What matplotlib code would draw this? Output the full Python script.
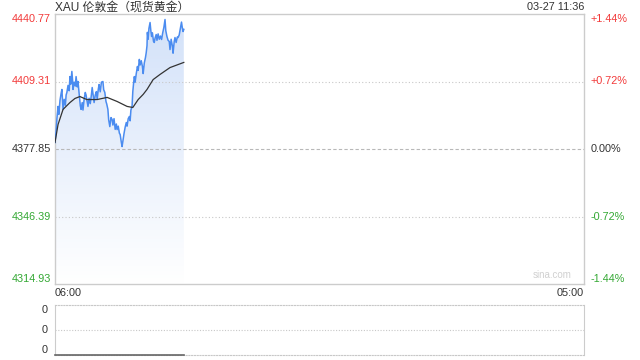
import matplotlib
matplotlib.use("Agg")
import matplotlib.pyplot as plt
import numpy as np
from matplotlib.colors import LinearSegmentedColormap
from matplotlib.patches import PathPatch
from matplotlib.path import Path

TITLE = "XAU 伦敦金（现货黄金）"
STAMP = "03-27 11:36"
PREV_CLOSE = 4377.85
Y_SPAN = 62.92
SESSION_MINUTES = 1380  # 06:00 -> 05:00 next day
X_LABELS = ["06:00", "05:00"]

# minutes since 06:00 and last price
minutes = [
    0, 3, 5, 8, 10, 13, 16, 18, 20, 21, 24, 27, 29, 31, 34, 37, 39, 41, 44, 46,
    47, 50, 53, 55, 58, 60, 63, 66, 68, 71, 73, 76, 79, 81, 84, 86, 89, 92, 95, 97,
    100, 102, 105, 108, 110, 113, 115, 118, 121, 125, 127, 130, 133, 135, 138, 140,
    143, 146, 149, 151, 154, 157, 160, 162, 165, 168, 170, 173, 175, 177, 180, 183,
    186, 188, 191, 194, 196, 198, 201, 203, 205, 207, 209, 212, 215, 217, 220, 222,
    225, 228, 230, 233, 236, 238, 240, 241, 243, 245, 248, 250, 252, 254, 257, 259,
    261, 264, 266, 269, 272, 275, 278, 281, 284, 287, 289, 292, 295, 298, 300, 303,
    306, 308, 311, 313, 316, 319, 321, 324, 327, 330, 332, 334, 336,
]
prices = [
    4380.9, 4386.5, 4392.0, 4397.7, 4394.0, 4400.5, 4403.8, 4405.6, 4399.0, 4396.3,
    4401.0, 4398.2, 4403.0, 4404.2, 4407.5, 4405.0, 4411.6, 4408.0, 4414.0, 4409.5,
    4405.6, 4409.0, 4407.2, 4411.6, 4406.8, 4409.3, 4403.5, 4398.0, 4396.3, 4399.5,
    4396.0, 4401.0, 4404.2, 4403.0, 4399.8, 4397.7, 4401.5, 4399.0, 4403.2, 4406.5,
    4402.3, 4399.5, 4403.0, 4404.6, 4401.0, 4405.8, 4407.9, 4404.5, 4409.0, 4409.3,
    4405.5, 4404.2, 4400.0, 4398.8, 4396.3, 4391.5, 4388.3, 4392.5, 4391.6, 4389.0,
    4392.0, 4387.0, 4389.5, 4386.9, 4388.5, 4385.2, 4384.6, 4381.0, 4379.0, 4381.4,
    4385.0, 4388.0, 4390.2, 4388.5, 4392.0, 4393.0, 4391.0, 4396.0, 4397.7, 4404.7,
    4408.5, 4411.6, 4409.0, 4413.0, 4416.3, 4414.5, 4419.6, 4417.0, 4419.0, 4416.3,
    4413.0, 4418.0, 4420.5, 4422.8, 4426.0, 4432.2, 4429.0, 4434.0, 4436.8, 4433.0,
    4430.3, 4432.0, 4428.0, 4427.5, 4429.5, 4431.2, 4428.5, 4431.5, 4429.0, 4430.5,
    4428.9, 4432.0, 4434.5, 4438.2, 4433.0, 4430.3, 4428.5, 4428.0, 4424.2, 4429.0,
    4426.0, 4422.5, 4428.0, 4429.8, 4427.5, 4430.0, 4429.8, 4431.0, 4434.0, 4437.0,
    4434.5, 4432.6, 4433.6,
]

# average price line
avg_minutes = [0, 8, 21, 39, 52, 65, 83, 110, 136, 162, 188, 203, 217, 230, 240,
               256, 274, 300, 336]
avg_prices = [4380.9, 4389.3, 4396.3, 4399.5, 4401.4, 4402.3, 4400.9, 4400.9,
              4401.9, 4400.0, 4397.7, 4397.2, 4400.9, 4403.3, 4405.6, 4410.2,
              4412.6, 4415.8, 4418.2]

volume = [0] * len(minutes)

ticks = [PREV_CLOSE + Y_SPAN * k for k in (1, 0.5, 0, -0.5, -1)]
tick_colors = ["#f23a3a", "#f23a3a", "#333333", "#33a833", "#33a833"]
pct_labels = [f"{(t / PREV_CLOSE - 1) * 100:+.2f}%" for t in ticks]
pct_labels[2] = "0.00%"

FONT = ["Liberation Sans", "Noto Sans CJK SC", "DejaVu Sans"]
plt.rcParams["font.family"] = FONT
GRID = "#cccccc"

fig = plt.figure(figsize=(6.4, 3.6), dpi=100)
ax = fig.add_axes([55 / 640, 1 - 284 / 360, 529 / 640, 270 / 360])
ylo, yhi = PREV_CLOSE - Y_SPAN, PREV_CLOSE + Y_SPAN
ax.set_xlim(0, SESSION_MINUTES)
ax.set_ylim(ylo, yhi)

# gradient fill under the price line
cmap = LinearSegmentedColormap.from_list("fill", ["#ffffff", "#d2e1f9"])
grad = np.linspace(1, 0, 256).reshape(-1, 1)
im = ax.imshow(grad, extent=[0, SESSION_MINUTES, ylo, yhi], aspect="auto",
               cmap=cmap, vmin=0, vmax=1, origin="upper", zorder=1)
verts = [(minutes[0], ylo)] + list(zip(minutes, prices)) + [(minutes[-1], ylo), (minutes[0], ylo)]
clip = PathPatch(Path(verts, closed=True), facecolor="none", edgecolor="none")
ax.add_patch(clip)
im.set_clip_path(clip)

ax.plot(minutes, prices, color="#4b8cf0", lw=1.1, zorder=3)
ax.plot(avg_minutes, avg_prices, color="#333333", lw=0.9, zorder=4)

for t in (ticks[1], ticks[3]):
    ax.axhline(t, color="#c8c8c8", lw=0.8, ls=(0, (1, 2)), zorder=2)
ax.axhline(PREV_CLOSE, color="#b8b8b8", lw=0.8, ls=(0, (3, 2)), zorder=2)

for s in ax.spines.values():
    s.set_color(GRID)
    s.set_linewidth(1)

ax.set_yticks(ticks)
ax.set_yticklabels([f"{t:.2f}" for t in ticks])
ax.tick_params(axis="y", length=0, labelsize=7.8, pad=3)
for lab, c, va in zip(ax.get_yticklabels(), tick_colors,
                      ["top", "center", "center", "center", "bottom"]):
    lab.set_color(c)
    lab.set_va(va)

ax.set_xticks([0, SESSION_MINUTES])
ax.set_xticklabels(X_LABELS)
ax.tick_params(axis="x", length=0, labelsize=7.8, pad=3, labelcolor="#333333")
xl = ax.get_xticklabels()
xl[0].set_ha("left")
xl[1].set_ha("right")

rax = ax.twinx()
rax.set_ylim(ylo, yhi)
rax.set_yticks(ticks)
rax.set_yticklabels(pct_labels)
rax.tick_params(axis="y", length=0, labelsize=7.8, pad=5)
for lab, c, va in zip(rax.get_yticklabels(), tick_colors,
                      ["top", "center", "center", "center", "bottom"]):
    lab.set_color(c)
    lab.set_va(va)
for s in rax.spines.values():
    s.set_visible(False)

ax.text(0.94, 0.015, "sina.com", transform=ax.transAxes, ha="center",
        va="bottom", fontsize=7, color="#d0d0d0")

# volume panel
vax = fig.add_axes([55 / 640, 1 - 355 / 360, 529 / 640, 50 / 360])
vax.set_xlim(0, SESSION_MINUTES)
vax.set_ylim(0, 1)
vax.plot(minutes, volume, color="#666666", lw=1.2, clip_on=False, zorder=3)
vax.axhline(0.5, color="#c8c8c8", lw=0.8, ls=(0, (1, 1.5)))
for side in ("top", "bottom"):
    vax.spines[side].set_color("#c8c8c8")
    vax.spines[side].set_linestyle((0, (1, 1.5)))
    vax.spines[side].set_linewidth(0.8)
for side in ("left", "right"):
    vax.spines[side].set_color(GRID)
vax.set_xticks([])
vax.set_yticks([0, 0.5, 1])
vax.set_yticklabels(["0", "0", "0"])
vax.tick_params(axis="y", length=0, labelsize=7.8, pad=5, labelcolor="#333333")
for lab, va in zip(vax.get_yticklabels(), ["bottom", "center", "top"]):
    lab.set_va(va)

fig.text(55 / 640, 1 - 7.5 / 360, TITLE, ha="left", va="center", fontsize=8.6,
         color="#333333", family=FONT)
fig.text(584 / 640, 1 - 7.5 / 360, STAMP, ha="right", va="center", fontsize=7.8,
         color="#333333")

fig.savefig("out.png", dpi=100)
